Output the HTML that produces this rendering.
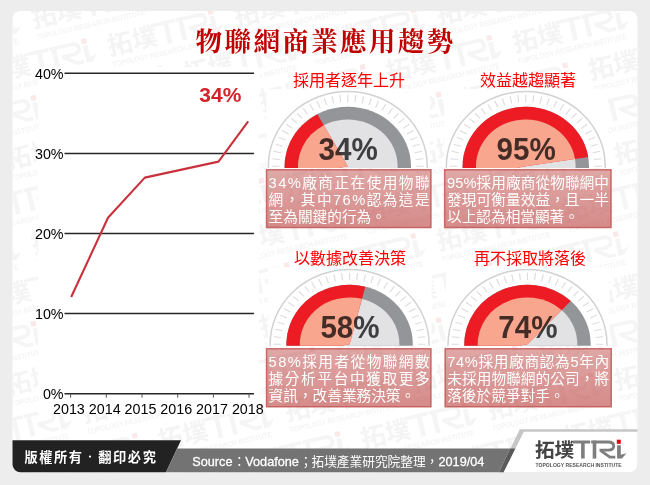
<!DOCTYPE html>
<html lang="zh-Hant"><head><meta charset="utf-8"><title>物聯網商業應用趨勢</title>
<style>
html,body{margin:0;padding:0;background:#ededed;}
body{width:650px;height:485px;overflow:hidden;font-family:"Liberation Sans","Noto Sans CJK TC",sans-serif;}
svg{display:block;font-family:"Liberation Sans","Noto Sans CJK TC",sans-serif;}
</style></head><body>
<svg width="650" height="485" viewBox="0 0 650 485">
<defs><clipPath id="gc0"><rect x="-90" y="-90" width="180" height="91.81"/></clipPath><clipPath id="gc1"><rect x="-90" y="-90" width="180" height="91.81"/></clipPath><clipPath id="gc2"><rect x="-90" y="-90" width="180" height="91.70"/></clipPath><clipPath id="gc3"><rect x="-90" y="-90" width="180" height="91.70"/></clipPath><clipPath id="cardclip"><rect x="12.5" y="11" width="625" height="461.5" rx="8"/></clipPath><linearGradient id="boxg" x1="0" y1="0" x2="0" y2="1"><stop offset="0" stop-color="#c0504d" stop-opacity="0.5"/><stop offset="1" stop-color="#c0504d" stop-opacity="0.66"/></linearGradient><g id="wm"><g transform="translate(0 0) scale(1)"><text x="-0.6" y="16.1" font-size="19.6" font-weight="bold" fill="#f4f4f4" font-family="'Liberation Sans','Noto Sans CJK TC',sans-serif">拓墣</text><g fill="#f5f5f5"><path d="M37.3 -.4H54.7V2.4H37.3ZM45.6 -.4H49.2V17.6H45.6Z"/><path d="M57.2 -.4H60.8V17.6H57.2Z"/><path d="M81.6 4.2H85.3V13.7L91 12.2L86.4 17.6H81.6Z"/></g><g fill="none" stroke="#f5f5f5"><path d="M55.6 1H72.6Q78.2 1 78.2 5.1Q78.2 9.2 72.6 9.2H64" stroke-width="2.8"/><path d="M65.2 9.6L74.4 16.2H79.8" stroke-width="2.8"/></g><rect x="81.3" y="-1.3" width="4" height="4.1" fill="#fbe8e8"/><g transform="translate(0 25.5) scale(0.8631 1)"><text x="0" y="0" font-size="5.9" font-weight="bold" fill="#f4f4f4" font-family="'Liberation Sans',sans-serif">TOPOLOGY RESEARCH INSTITUTE</text></g></g></g></defs>
<rect width="650" height="485" fill="#ededed"/><rect x="12.5" y="11" width="625" height="461.3" rx="8" fill="#fff"/><g clip-path="url(#cardclip)" fill="#f4f4f4"><use href="#wm" transform="translate(-41.5 0.6) rotate(-13) scale(1.29) translate(0 -16.4)"/><use href="#wm" transform="translate(-92.2 57.4) rotate(-13) scale(1.29) translate(0 -16.4)"/><use href="#wm" transform="translate(34.5 28.2) rotate(-13) scale(1.29) translate(0 -16.4)"/><use href="#wm" transform="translate(161.1 -1.1) rotate(-13) scale(1.29) translate(0 -16.4)"/><use href="#wm" transform="translate(-16.2 85.0) rotate(-13) scale(1.29) translate(0 -16.4)"/><use href="#wm" transform="translate(110.4 55.7) rotate(-13) scale(1.29) translate(0 -16.4)"/><use href="#wm" transform="translate(237.1 26.5) rotate(-13) scale(1.29) translate(0 -16.4)"/><use href="#wm" transform="translate(363.7 -2.8) rotate(-13) scale(1.29) translate(0 -16.4)"/><use href="#wm" transform="translate(-66.8 141.8) rotate(-13) scale(1.29) translate(0 -16.4)"/><use href="#wm" transform="translate(59.8 112.6) rotate(-13) scale(1.29) translate(0 -16.4)"/><use href="#wm" transform="translate(186.4 83.3) rotate(-13) scale(1.29) translate(0 -16.4)"/><use href="#wm" transform="translate(313.1 54.1) rotate(-13) scale(1.29) translate(0 -16.4)"/><use href="#wm" transform="translate(439.7 24.8) rotate(-13) scale(1.29) translate(0 -16.4)"/><use href="#wm" transform="translate(566.3 -4.4) rotate(-13) scale(1.29) translate(0 -16.4)"/><use href="#wm" transform="translate(-117.4 198.7) rotate(-13) scale(1.29) translate(0 -16.4)"/><use href="#wm" transform="translate(9.2 169.4) rotate(-13) scale(1.29) translate(0 -16.4)"/><use href="#wm" transform="translate(135.8 140.2) rotate(-13) scale(1.29) translate(0 -16.4)"/><use href="#wm" transform="translate(262.4 110.9) rotate(-13) scale(1.29) translate(0 -16.4)"/><use href="#wm" transform="translate(389.0 81.7) rotate(-13) scale(1.29) translate(0 -16.4)"/><use href="#wm" transform="translate(515.7 52.4) rotate(-13) scale(1.29) translate(0 -16.4)"/><use href="#wm" transform="translate(642.3 23.2) rotate(-13) scale(1.29) translate(0 -16.4)"/><use href="#wm" transform="translate(-41.5 226.3) rotate(-13) scale(1.29) translate(0 -16.4)"/><use href="#wm" transform="translate(85.2 197.0) rotate(-13) scale(1.29) translate(0 -16.4)"/><use href="#wm" transform="translate(211.8 167.8) rotate(-13) scale(1.29) translate(0 -16.4)"/><use href="#wm" transform="translate(338.4 138.5) rotate(-13) scale(1.29) translate(0 -16.4)"/><use href="#wm" transform="translate(465.0 109.3) rotate(-13) scale(1.29) translate(0 -16.4)"/><use href="#wm" transform="translate(591.6 80.0) rotate(-13) scale(1.29) translate(0 -16.4)"/><use href="#wm" transform="translate(-92.1 283.1) rotate(-13) scale(1.29) translate(0 -16.4)"/><use href="#wm" transform="translate(34.5 253.9) rotate(-13) scale(1.29) translate(0 -16.4)"/><use href="#wm" transform="translate(161.2 224.6) rotate(-13) scale(1.29) translate(0 -16.4)"/><use href="#wm" transform="translate(287.8 195.4) rotate(-13) scale(1.29) translate(0 -16.4)"/><use href="#wm" transform="translate(414.4 166.1) rotate(-13) scale(1.29) translate(0 -16.4)"/><use href="#wm" transform="translate(541.0 136.9) rotate(-13) scale(1.29) translate(0 -16.4)"/><use href="#wm" transform="translate(-16.1 310.7) rotate(-13) scale(1.29) translate(0 -16.4)"/><use href="#wm" transform="translate(110.5 281.4) rotate(-13) scale(1.29) translate(0 -16.4)"/><use href="#wm" transform="translate(237.1 252.2) rotate(-13) scale(1.29) translate(0 -16.4)"/><use href="#wm" transform="translate(363.8 222.9) rotate(-13) scale(1.29) translate(0 -16.4)"/><use href="#wm" transform="translate(490.4 193.7) rotate(-13) scale(1.29) translate(0 -16.4)"/><use href="#wm" transform="translate(617.0 164.4) rotate(-13) scale(1.29) translate(0 -16.4)"/><use href="#wm" transform="translate(-66.7 367.5) rotate(-13) scale(1.29) translate(0 -16.4)"/><use href="#wm" transform="translate(59.9 338.3) rotate(-13) scale(1.29) translate(0 -16.4)"/><use href="#wm" transform="translate(186.5 309.0) rotate(-13) scale(1.29) translate(0 -16.4)"/><use href="#wm" transform="translate(313.1 279.8) rotate(-13) scale(1.29) translate(0 -16.4)"/><use href="#wm" transform="translate(439.7 250.5) rotate(-13) scale(1.29) translate(0 -16.4)"/><use href="#wm" transform="translate(566.4 221.3) rotate(-13) scale(1.29) translate(0 -16.4)"/><use href="#wm" transform="translate(-117.4 424.4) rotate(-13) scale(1.29) translate(0 -16.4)"/><use href="#wm" transform="translate(9.2 395.1) rotate(-13) scale(1.29) translate(0 -16.4)"/><use href="#wm" transform="translate(135.9 365.9) rotate(-13) scale(1.29) translate(0 -16.4)"/><use href="#wm" transform="translate(262.5 336.6) rotate(-13) scale(1.29) translate(0 -16.4)"/><use href="#wm" transform="translate(389.1 307.4) rotate(-13) scale(1.29) translate(0 -16.4)"/><use href="#wm" transform="translate(515.7 278.1) rotate(-13) scale(1.29) translate(0 -16.4)"/><use href="#wm" transform="translate(642.3 248.9) rotate(-13) scale(1.29) translate(0 -16.4)"/><use href="#wm" transform="translate(-41.4 452.0) rotate(-13) scale(1.29) translate(0 -16.4)"/><use href="#wm" transform="translate(85.2 422.7) rotate(-13) scale(1.29) translate(0 -16.4)"/><use href="#wm" transform="translate(211.9 393.5) rotate(-13) scale(1.29) translate(0 -16.4)"/><use href="#wm" transform="translate(338.5 364.2) rotate(-13) scale(1.29) translate(0 -16.4)"/><use href="#wm" transform="translate(465.1 335.0) rotate(-13) scale(1.29) translate(0 -16.4)"/><use href="#wm" transform="translate(591.7 305.7) rotate(-13) scale(1.29) translate(0 -16.4)"/><use href="#wm" transform="translate(-92.0 508.8) rotate(-13) scale(1.29) translate(0 -16.4)"/><use href="#wm" transform="translate(34.6 479.6) rotate(-13) scale(1.29) translate(0 -16.4)"/><use href="#wm" transform="translate(161.2 450.3) rotate(-13) scale(1.29) translate(0 -16.4)"/><use href="#wm" transform="translate(287.8 421.1) rotate(-13) scale(1.29) translate(0 -16.4)"/><use href="#wm" transform="translate(414.5 391.8) rotate(-13) scale(1.29) translate(0 -16.4)"/><use href="#wm" transform="translate(541.1 362.6) rotate(-13) scale(1.29) translate(0 -16.4)"/><use href="#wm" transform="translate(110.6 507.1) rotate(-13) scale(1.29) translate(0 -16.4)"/><use href="#wm" transform="translate(237.2 477.9) rotate(-13) scale(1.29) translate(0 -16.4)"/><use href="#wm" transform="translate(363.8 448.6) rotate(-13) scale(1.29) translate(0 -16.4)"/><use href="#wm" transform="translate(490.4 419.4) rotate(-13) scale(1.29) translate(0 -16.4)"/><use href="#wm" transform="translate(617.1 390.1) rotate(-13) scale(1.29) translate(0 -16.4)"/><use href="#wm" transform="translate(313.2 505.5) rotate(-13) scale(1.29) translate(0 -16.4)"/><use href="#wm" transform="translate(439.8 476.2) rotate(-13) scale(1.29) translate(0 -16.4)"/><use href="#wm" transform="translate(566.4 447.0) rotate(-13) scale(1.29) translate(0 -16.4)"/><use href="#wm" transform="translate(515.8 503.8) rotate(-13) scale(1.29) translate(0 -16.4)"/><use href="#wm" transform="translate(642.4 474.6) rotate(-13) scale(1.29) translate(0 -16.4)"/></g><rect x="38" y="67" width="221" height="347" fill="#fff"/><path d="M64.5 73.3H254" stroke="#262626" stroke-width="1.5"/><text x="63.6" y="79.0" font-size="14.3" text-anchor="end" fill="#000">40%</text><path d="M64.5 153.4H254" stroke="#262626" stroke-width="1.5"/><text x="63.6" y="159.1" font-size="14.3" text-anchor="end" fill="#000">30%</text><path d="M64.5 233.5H254" stroke="#262626" stroke-width="1.5"/><text x="63.6" y="239.2" font-size="14.3" text-anchor="end" fill="#000">20%</text><path d="M64.5 313.6H254" stroke="#262626" stroke-width="1.5"/><text x="63.6" y="319.3" font-size="14.3" text-anchor="end" fill="#000">10%</text><path d="M64.5 393.7H254" stroke="#262626" stroke-width="1.5"/><text x="63.6" y="399.4" font-size="14.3" text-anchor="end" fill="#000">0%</text><path d="M70.6 393.7v4M106.3 393.7v4M142.0 393.7v4M177.7 393.7v4M213.4 393.7v4M249.0 393.7v4" stroke="#555" stroke-width="1"/><text x="53" y="413.6" font-size="14.3" fill="#000">2013 2014 2015 2016 2017 2018</text><polyline points="71.2,297 108,217.8 144.8,177.6 218.5,161.6 248.2,121.3" fill="none" stroke="#c8323c" stroke-width="2.1" stroke-linejoin="round"/><text x="199.3" y="101.5" font-size="20" font-weight="bold" fill="#d2232a" textLength="42" lengthAdjust="spacingAndGlyphs" font-family="'Liberation Sans',sans-serif">34%</text><text x="195.6" y="50.6" font-size="26.5" font-weight="bold" fill="#c00000" letter-spacing="2.4" font-family="'Liberation Serif','Noto Serif CJK SC',serif">物聯網商業應用趨勢</text><rect x="266.3" y="89.2" width="163.5" height="78.7" fill="#fff"/><g transform="translate(347.8 166.2) scale(1 0.94)" clip-path="url(#gc0)"><circle r="79.45" fill="#fff" stroke="#d1d2d4" stroke-width="1.5"/><path d="M68.03 7.15L75.58 7.94M68.40 -0.00L76.00 -0.00M68.03 -7.15L75.58 -7.94M66.91 -14.22L74.34 -15.80M65.05 -21.14L72.28 -23.49M62.49 -27.82L69.43 -30.91M59.24 -34.20L65.82 -38.00M55.34 -40.20L61.49 -44.67M50.83 -45.77L56.48 -50.85M45.77 -50.83L50.85 -56.48M40.20 -55.34L44.67 -61.49M34.20 -59.24L38.00 -65.82M27.82 -62.49L30.91 -69.43M21.14 -65.05L23.49 -72.28M14.22 -66.91L15.80 -74.34M7.15 -68.03L7.94 -75.58M0.00 -68.40L0.00 -76.00M-7.15 -68.03L-7.94 -75.58M-14.22 -66.91L-15.80 -74.34M-21.14 -65.05L-23.49 -72.28M-27.82 -62.49L-30.91 -69.43M-34.20 -59.24L-38.00 -65.82M-40.20 -55.34L-44.67 -61.49M-45.77 -50.83L-50.85 -56.48M-50.83 -45.77L-56.48 -50.85M-55.34 -40.20L-61.49 -44.67M-59.24 -34.20L-65.82 -38.00M-62.49 -27.82L-69.43 -30.91M-65.05 -21.14L-72.28 -23.49M-66.91 -14.22L-74.34 -15.80M-68.03 -7.15L-75.58 -7.94M-68.40 -0.00L-76.00 -0.00M-68.03 7.15L-75.58 7.94" stroke="#dadbdc" stroke-width="1.1"/><circle r="63.2" fill="#939598"/><circle r="49.8" fill="#e2e2e4"/><path d="M0 0L-61.82 13.14A63.2 63.2 0 0 1 -30.45 -55.38Z" fill="#ed1c24"/><path d="M0 0L-48.71 10.35A49.8 49.8 0 0 1 -23.99 -43.64Z" fill="#f9a68e"/></g><g transform="translate(348.20 160.20) scale(0.925 1)" style="mix-blend-mode:multiply"><text x="0" y="0" font-size="32" font-weight="bold" text-anchor="middle" fill="#464446" font-family="'Liberation Sans',sans-serif">34%</text></g><rect x="444.3" y="89.2" width="163.5" height="78.7" fill="#fff"/><g transform="translate(525.8 166.2) scale(1 0.94)" clip-path="url(#gc1)"><circle r="79.45" fill="#fff" stroke="#d1d2d4" stroke-width="1.5"/><path d="M68.03 7.15L75.58 7.94M68.40 -0.00L76.00 -0.00M68.03 -7.15L75.58 -7.94M66.91 -14.22L74.34 -15.80M65.05 -21.14L72.28 -23.49M62.49 -27.82L69.43 -30.91M59.24 -34.20L65.82 -38.00M55.34 -40.20L61.49 -44.67M50.83 -45.77L56.48 -50.85M45.77 -50.83L50.85 -56.48M40.20 -55.34L44.67 -61.49M34.20 -59.24L38.00 -65.82M27.82 -62.49L30.91 -69.43M21.14 -65.05L23.49 -72.28M14.22 -66.91L15.80 -74.34M7.15 -68.03L7.94 -75.58M0.00 -68.40L0.00 -76.00M-7.15 -68.03L-7.94 -75.58M-14.22 -66.91L-15.80 -74.34M-21.14 -65.05L-23.49 -72.28M-27.82 -62.49L-30.91 -69.43M-34.20 -59.24L-38.00 -65.82M-40.20 -55.34L-44.67 -61.49M-45.77 -50.83L-50.85 -56.48M-50.83 -45.77L-56.48 -50.85M-55.34 -40.20L-61.49 -44.67M-59.24 -34.20L-65.82 -38.00M-62.49 -27.82L-69.43 -30.91M-65.05 -21.14L-72.28 -23.49M-66.91 -14.22L-74.34 -15.80M-68.03 -7.15L-75.58 -7.94M-68.40 -0.00L-76.00 -0.00M-68.03 7.15L-75.58 7.94" stroke="#dadbdc" stroke-width="1.1"/><circle r="63.2" fill="#939598"/><circle r="49.8" fill="#e2e2e4"/><path d="M0 0L-61.82 13.14A63.2 63.2 0 1 1 62.42 -9.89Z" fill="#ed1c24"/><path d="M0 0L-48.71 10.35A49.8 49.8 0 1 1 49.19 -7.79Z" fill="#f9a68e"/></g><g transform="translate(526.20 160.20) scale(0.925 1)" style="mix-blend-mode:multiply"><text x="0" y="0" font-size="32" font-weight="bold" text-anchor="middle" fill="#464446" font-family="'Liberation Sans',sans-serif">95%</text></g><rect x="268.1" y="267.2" width="163.5" height="78.6" fill="#fff"/><g transform="translate(349.6 344.2) scale(1 0.94)" clip-path="url(#gc2)"><circle r="79.45" fill="#fff" stroke="#d1d2d4" stroke-width="1.5"/><path d="M68.03 7.15L75.58 7.94M68.40 -0.00L76.00 -0.00M68.03 -7.15L75.58 -7.94M66.91 -14.22L74.34 -15.80M65.05 -21.14L72.28 -23.49M62.49 -27.82L69.43 -30.91M59.24 -34.20L65.82 -38.00M55.34 -40.20L61.49 -44.67M50.83 -45.77L56.48 -50.85M45.77 -50.83L50.85 -56.48M40.20 -55.34L44.67 -61.49M34.20 -59.24L38.00 -65.82M27.82 -62.49L30.91 -69.43M21.14 -65.05L23.49 -72.28M14.22 -66.91L15.80 -74.34M7.15 -68.03L7.94 -75.58M0.00 -68.40L0.00 -76.00M-7.15 -68.03L-7.94 -75.58M-14.22 -66.91L-15.80 -74.34M-21.14 -65.05L-23.49 -72.28M-27.82 -62.49L-30.91 -69.43M-34.20 -59.24L-38.00 -65.82M-40.20 -55.34L-44.67 -61.49M-45.77 -50.83L-50.85 -56.48M-50.83 -45.77L-56.48 -50.85M-55.34 -40.20L-61.49 -44.67M-59.24 -34.20L-65.82 -38.00M-62.49 -27.82L-69.43 -30.91M-65.05 -21.14L-72.28 -23.49M-66.91 -14.22L-74.34 -15.80M-68.03 -7.15L-75.58 -7.94M-68.40 -0.00L-76.00 -0.00M-68.03 7.15L-75.58 7.94" stroke="#dadbdc" stroke-width="1.1"/><circle r="63.2" fill="#939598"/><circle r="49.8" fill="#e2e2e4"/><path d="M0 0L-61.82 13.14A63.2 63.2 0 0 1 15.72 -61.21Z" fill="#ed1c24"/><path d="M0 0L-48.71 10.35A49.8 49.8 0 0 1 12.38 -48.24Z" fill="#f9a68e"/></g><g transform="translate(350.00 338.20) scale(0.925 1)" style="mix-blend-mode:multiply"><text x="0" y="0" font-size="32" font-weight="bold" text-anchor="middle" fill="#464446" font-family="'Liberation Sans',sans-serif">58%</text></g><rect x="446.0" y="267.2" width="163.5" height="78.6" fill="#fff"/><g transform="translate(527.5 344.2) scale(1 0.94)" clip-path="url(#gc3)"><circle r="79.45" fill="#fff" stroke="#d1d2d4" stroke-width="1.5"/><path d="M68.03 7.15L75.58 7.94M68.40 -0.00L76.00 -0.00M68.03 -7.15L75.58 -7.94M66.91 -14.22L74.34 -15.80M65.05 -21.14L72.28 -23.49M62.49 -27.82L69.43 -30.91M59.24 -34.20L65.82 -38.00M55.34 -40.20L61.49 -44.67M50.83 -45.77L56.48 -50.85M45.77 -50.83L50.85 -56.48M40.20 -55.34L44.67 -61.49M34.20 -59.24L38.00 -65.82M27.82 -62.49L30.91 -69.43M21.14 -65.05L23.49 -72.28M14.22 -66.91L15.80 -74.34M7.15 -68.03L7.94 -75.58M0.00 -68.40L0.00 -76.00M-7.15 -68.03L-7.94 -75.58M-14.22 -66.91L-15.80 -74.34M-21.14 -65.05L-23.49 -72.28M-27.82 -62.49L-30.91 -69.43M-34.20 -59.24L-38.00 -65.82M-40.20 -55.34L-44.67 -61.49M-45.77 -50.83L-50.85 -56.48M-50.83 -45.77L-56.48 -50.85M-55.34 -40.20L-61.49 -44.67M-59.24 -34.20L-65.82 -38.00M-62.49 -27.82L-69.43 -30.91M-65.05 -21.14L-72.28 -23.49M-66.91 -14.22L-74.34 -15.80M-68.03 -7.15L-75.58 -7.94M-68.40 -0.00L-76.00 -0.00M-68.03 7.15L-75.58 7.94" stroke="#dadbdc" stroke-width="1.1"/><circle r="63.2" fill="#939598"/><circle r="49.8" fill="#e2e2e4"/><path d="M0 0L-61.82 13.14A63.2 63.2 0 0 1 43.26 -46.07Z" fill="#ed1c24"/><path d="M0 0L-48.71 10.35A49.8 49.8 0 0 1 34.09 -36.30Z" fill="#f9a68e"/></g><g transform="translate(527.90 338.20) scale(0.925 1)" style="mix-blend-mode:multiply"><text x="0" y="0" font-size="32" font-weight="bold" text-anchor="middle" fill="#464446" font-family="'Liberation Sans',sans-serif">74%</text></g><text x="293" y="86" font-size="16" fill="#ff0000" font-family="'Liberation Sans','Noto Sans CJK TC',sans-serif">採用者逐年上升</text><text x="480" y="86" font-size="16" fill="#ff0000" font-family="'Liberation Sans','Noto Sans CJK TC',sans-serif">效益越趨顯著</text><text x="294" y="264" font-size="16" fill="#ff0000" font-family="'Liberation Sans','Noto Sans CJK TC',sans-serif">以數據改善決策</text><text x="474" y="264" font-size="16" fill="#ff0000" font-family="'Liberation Sans','Noto Sans CJK TC',sans-serif">再不採取將落後</text><rect x="266.55" y="169.75" width="164.40" height="57.80" fill="url(#boxg)" stroke="#c0504d" stroke-opacity="0.8" stroke-width="1.5"/><g font-size="14.67" fill="#fff" font-family="'Liberation Sans','Noto Sans CJK TC',sans-serif"><text x="268.6" y="187.7" textLength="161" lengthAdjust="spacing">34%廠商正在使用物聯</text><text x="268.6" y="204.7" textLength="161" lengthAdjust="spacing">網，其中76%認為這是</text><text x="268.6" y="221.7">至為關鍵的行為。</text></g><rect x="444.65" y="169.75" width="166.40" height="57.80" fill="url(#boxg)" stroke="#c0504d" stroke-opacity="0.8" stroke-width="1.5"/><g font-size="14.67" fill="#fff" font-family="'Liberation Sans','Noto Sans CJK TC',sans-serif"><text x="447" y="187.7" textLength="162" lengthAdjust="spacing">95%採用廠商從物聯網中</text><text x="447" y="204.7" textLength="162" lengthAdjust="spacing">發現可衡量效益，且一半</text><text x="447" y="221.7">以上認為相當顯著。</text></g><rect x="266.55" y="348.75" width="164.40" height="58.00" fill="url(#boxg)" stroke="#c0504d" stroke-opacity="0.8" stroke-width="1.5"/><g font-size="14.67" fill="#fff" font-family="'Liberation Sans','Noto Sans CJK TC',sans-serif"><text x="268.6" y="366.9" textLength="161" lengthAdjust="spacing">58%採用者從物聯網數</text><text x="268.6" y="383.9" textLength="161" lengthAdjust="spacing">據分析平台中獲取更多</text><text x="268.6" y="400.9">資訊，改善業務決策。</text></g><rect x="445.15" y="348.75" width="166.10" height="58.00" fill="url(#boxg)" stroke="#c0504d" stroke-opacity="0.8" stroke-width="1.5"/><g font-size="14.67" fill="#fff" font-family="'Liberation Sans','Noto Sans CJK TC',sans-serif"><text x="447.2" y="366.9" textLength="162" lengthAdjust="spacing">74%採用廠商認為5年內</text><text x="447.2" y="383.9" textLength="162" lengthAdjust="spacing">未採用物聯網的公司，將</text><text x="447.2" y="400.9">落後於競爭對手。</text></g><path d="M12.5 440.3H181L166 472.3H20.5a8 8 0 0 1 -8 -8Z" fill="#222"/><path d="M177.2 448.6H510.2L499 472.3H166Z" fill="#737373"/><path d="M519.8 429.2H637.5V464.3a8 8 0 0 1 -8 8H499Z" fill="#c6c6c6"/><path d="M510.2 448.6H515.5L503.7 472.3H499Z" fill="#5a5a5a"/><path d="M523.8 431.8H637.5V464.3a8 8 0 0 1 -8 8H503.7Z" fill="#fff"/><text x="24.5" y="461.5" font-size="13.2" font-weight="bold" fill="#fff" letter-spacing="1.6" font-family="'Liberation Sans','Noto Sans CJK TC',sans-serif">版權所有</text><circle cx="90" cy="456.6" r="1.15" fill="#fff"/><text x="98.3" y="461.5" font-size="13.2" font-weight="bold" fill="#fff" letter-spacing="1.6" font-family="'Liberation Sans','Noto Sans CJK TC',sans-serif">翻印必究</text><text x="192.3" y="465.6" font-size="12.7" fill="#fff" stroke="#fff" stroke-width="0.3">Source</text><text x="233" y="465.6" font-size="12.7" fill="#fff" font-family="'Liberation Sans','Noto Sans CJK TC',sans-serif">：</text><text x="245.3" y="465.6" font-size="12.7" fill="#fff" stroke="#fff" stroke-width="0.3">Vodafone</text><text x="299.5" y="465.6" font-size="12.7" fill="#fff" font-family="'Liberation Sans','Noto Sans CJK TC',sans-serif">；</text><text x="311.5" y="465.6" font-size="12.7" fill="#fff" font-family="'Liberation Sans','Noto Sans CJK TC',sans-serif">拓墣產業研究院整理，</text><text x="438.5" y="465.6" font-size="12.7" fill="#fff" stroke="#fff" stroke-width="0.3">2019/04</text><g transform="translate(535.5 441) scale(1)"><text x="-0.6" y="16.1" font-size="19.6" font-weight="bold" fill="#444" font-family="'Liberation Sans','Noto Sans CJK TC',sans-serif">拓墣</text><g fill="#7e7e7e"><path d="M37.3 -.4H54.7V2.4H37.3ZM45.6 -.4H49.2V17.6H45.6Z"/><path d="M57.2 -.4H60.8V17.6H57.2Z"/><path d="M81.6 4.2H85.3V13.7L91 12.2L86.4 17.6H81.6Z"/></g><g fill="none" stroke="#7e7e7e"><path d="M55.6 1H72.6Q78.2 1 78.2 5.1Q78.2 9.2 72.6 9.2H64" stroke-width="2.8"/><path d="M65.2 9.6L74.4 16.2H79.8" stroke-width="2.8"/></g><rect x="81.3" y="-1.3" width="4" height="4.1" fill="#e60012"/><g transform="translate(0 25.5) scale(0.8631 1)"><text x="0" y="0" font-size="5.9" font-weight="bold" fill="#555" font-family="'Liberation Sans',sans-serif">TOPOLOGY RESEARCH INSTITUTE</text></g></g>
</svg>
</body></html>
